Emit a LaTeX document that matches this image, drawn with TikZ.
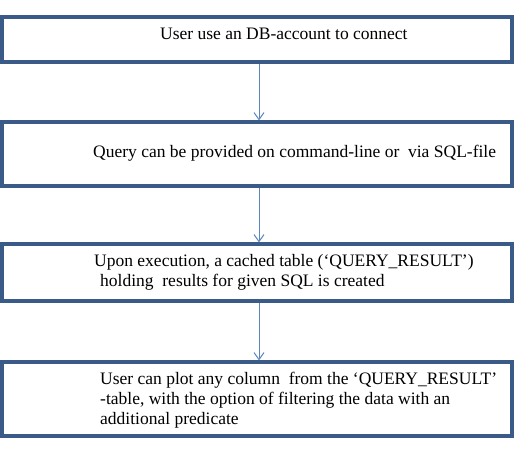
\documentclass[tikz,border=0pt]{standalone}
\usepackage{fontspec}
\setmainfont{Liberation Serif}
\usetikzlibrary{arrows.meta}
\definecolor{boxline}{HTML}{3A5A88}
\definecolor{arrline}{HTML}{5B86C0}
\tikzset{
  stepbox/.style={draw=boxline, line width=3.2pt, rectangle, minimum width=510pt, inner sep=0pt},
  txt/.style={inner sep=0pt, align=left, anchor=west, font=\fontsize{17.5}{20}\selectfont},
  arr/.style={draw=arrline, line width=1pt, -{Straight Barb[length=7pt,width=10pt,line width=1pt]}}
}
\begin{document}
\begin{tikzpicture}[x=1pt,y=-1pt]
\useasboundingbox (0,0) rectangle (517,464);
\node[stepbox, minimum height=45pt] (b1) at (257,39.5) {};
\node[stepbox, minimum height=64pt] (b2) at (257,154) {};
\node[stepbox, minimum height=57pt] (b3) at (257,272.5) {};
\node[stepbox, minimum height=74pt] (b4) at (257,399) {};
\node[txt] (t1) at (160,34) {User use an DB-account to connect};
\node[txt] (t2) at (93,153) {Query can be provided on command-line or \ via SQL-file};
\node[txt] (t3) at (94,272) {Upon execution, a cached table (‘QUERY\_RESULT’)\\[0pt]\hspace*{6pt}holding \ results for given SQL is created};
\node[txt] (t4) at (100,400) {User can plot any column \ from the ‘QUERY\_RESULT’\\-table, with the option of filtering the data with an\\additional predicate};
\draw[arr] ([xshift=2pt]b1.south) -- ([xshift=2pt]b2.north);
\draw[arr] ([xshift=2pt]b2.south) -- ([xshift=2pt]b3.north);
\draw[arr] ([xshift=2pt]b3.south) -- ([xshift=2pt]b4.north);
\end{tikzpicture}
\end{document}
